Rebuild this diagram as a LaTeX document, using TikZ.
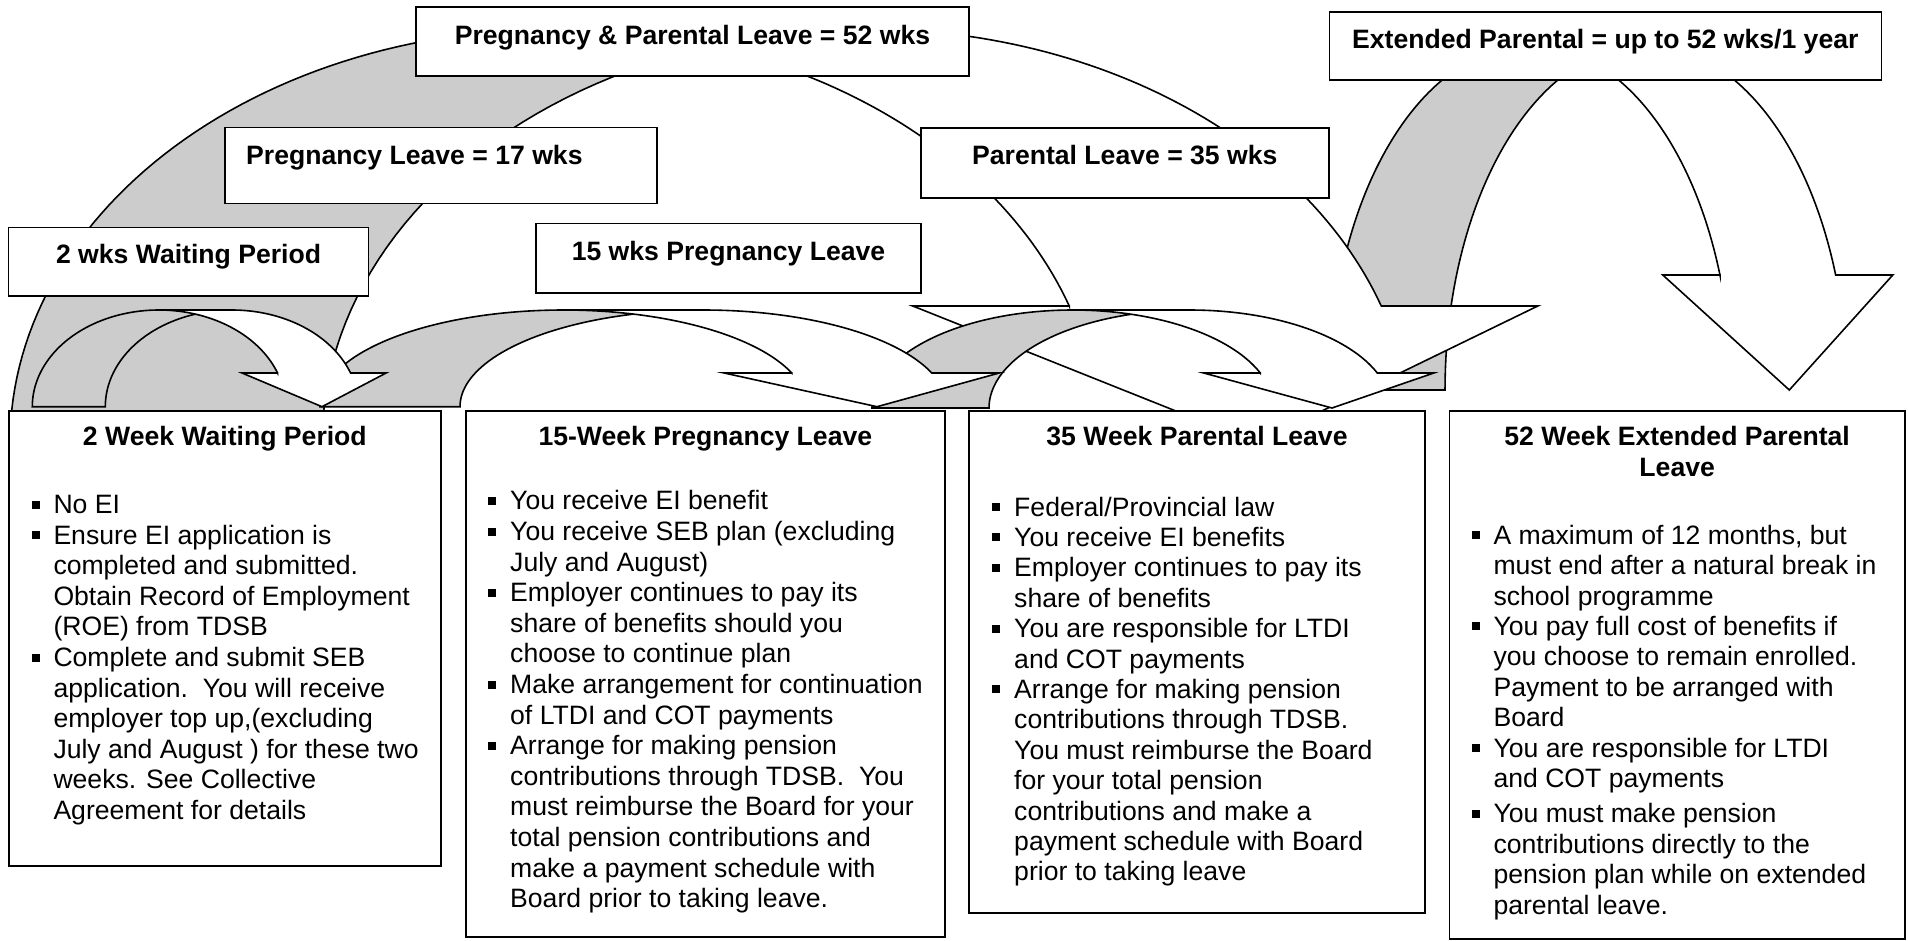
\documentclass[tikz,border=0pt]{standalone}
\usepackage{fontspec}
\setmainfont{Liberation Sans}
\definecolor{arrowgrey}{RGB}{204,204,204}
% curved down arrow: #1=l #2=baseline #3=w #4=h #5=th #6=aw #7=ah (pixel units, y down)
\newcommand{\cda}[7]{%
  \pgfmathsetmacro\Wr{#3/2-(#5+#6)/4}%
  \pgfmathsetmacro\cxa{#1+\Wr}%
  \pgfmathsetmacro\cxb{\cxa+#5}%
  \pgfmathsetmacro\ya{#2-#7}%
  \pgfmathsetmacro\tha{-asin(#7/#4)}%
  \pgfmathsetmacro\dxx{\Wr*cos(\tha)}%
  \pgfmathsetmacro\xfive{\cxa+\dxx}%
  \pgfmathsetmacro\xseven{\cxb+\dxx}%
  \pgfmathsetmacro\dhh{(#6-#5)/2}%
  \pgfmathsetmacro\xfour{\xfive-\dhh}%
  \pgfmathsetmacro\xeight{\xseven+\dhh}%
  \pgfmathsetmacro\xsix{#1+#3-#6/2}%
  \pgfmathsetmacro\phic{acos(#5/(2*\Wr))}%
  \pgfmathsetmacro\phia{\phic-180}%
  \pgfmathsetmacro\phib{-\phic}%
  \fill[white] (\xsix,#2) -- (\xfour,\ya) -- (\xfive,\ya)
    -- plot[domain=\tha:-90,samples=60] ({\cxa+\Wr*cos(\x)},{#2+#4*sin(\x)})
    -- plot[domain=-90:\tha,samples=60] ({\cxb+\Wr*cos(\x)},{#2+#4*sin(\x)})
    -- (\xeight,\ya) -- cycle;
  \fill[arrowgrey] plot[domain=\phia:-180,samples=40] ({\cxb+\Wr*cos(\x)},{#2+#4*sin(\x)})
    -- plot[domain=-180:\phib,samples=60] ({\cxa+\Wr*cos(\x)},{#2+#4*sin(\x)}) -- cycle;
  \draw[arrowline] plot[domain=\phia:-180,samples=40] ({\cxb+\Wr*cos(\x)},{#2+#4*sin(\x)})
    -- plot[domain=-180:-90,samples=60] ({\cxa+\Wr*cos(\x)},{#2+#4*sin(\x)})
    -- plot[domain=-90:\tha,samples=60] ({\cxb+\Wr*cos(\x)},{#2+#4*sin(\x)})
    -- (\xeight,\ya) -- (\xsix,#2) -- (\xfour,\ya) -- (\xfive,\ya)
    -- plot[domain=\tha:-90,samples=60] ({\cxa+\Wr*cos(\x)},{#2+#4*sin(\x)});
}
\newcommand{\bul}{\makebox[0pt][r]{\raisebox{5pt}{\rule{8pt}{8pt}}\hspace{14pt}}}
\newcommand{\fst}{\rule{0pt}{24pt}}
\begin{document}
\begin{tikzpicture}[x=1pt,y=-1pt,
  arrowline/.style={draw=black,line width=1.6pt,line join=miter},
  box/.style={draw=black,fill=white,line width=1.6pt,inner sep=0pt,outer sep=0pt,anchor=north west},
  lbl/.style={font=\fontsize{26.6}{30.6}\selectfont\bfseries,inner sep=0pt},
  body/.style={font=\fontsize{26.6}{30.6}\selectfont,inner sep=0pt,align=left,anchor=north west}]
\useasboundingbox[fill=white] (0,0) rectangle (1908,940);

% curved arrows, back to front
\cda{1329.3}{390}{575}{345}{115.7}{230}{115}
\cda{10}{443}{1558.5}{414}{312}{625}{137}
\cda{872}{408}{575}{98}{117}{230}{35}
\cda{320}{406.7}{694.5}{96.7}{140}{275}{33.7}
\cda{32.3}{406.7}{361.7}{96.7}{73}{144}{33.7}

% top label boxes
\node[box,minimum width=553,minimum height=69] (b52) at (416,7) {};
\node[lbl,anchor=base] (t52) at ([yshift=-37pt]b52.north) {Pregnancy \& Parental Leave = 52 wks};
\node[box,minimum width=432,minimum height=76] (b17) at (225,127.3) {};
\node[lbl,anchor=base west] (t17) at ([xshift=21pt,yshift=-37pt]b17.north west) {Pregnancy Leave = 17 wks};
\node[box,minimum width=360,minimum height=68.5] (b2) at (8.6,227.3) {};
\node[lbl,anchor=base] (t2) at ([yshift=-36pt]b2.north) {2 wks Waiting Period};
\node[box,minimum width=385,minimum height=69.5] (b15) at (536,223.3) {};
\node[lbl,anchor=base] (t15) at ([yshift=-37.5pt]b15.north) {15 wks Pregnancy Leave};
\node[box,minimum width=408,minimum height=70.5] (b35) at (920.8,127.7) {};
\node[lbl,anchor=base] (t35) at ([yshift=-36.5pt]b35.north) {Parental Leave = 35 wks};
\node[box,minimum width=552,minimum height=68.3] (bex) at (1329.3,11.7) {};
\node[lbl,anchor=base] (tex) at ([yshift=-36.5pt]bex.north) {Extended Parental = up to 52 wks/1 year};

% bottom information boxes
\node[box,minimum width=431.7,minimum height=455] (A) at (9,411) {};
\node[lbl,align=center,anchor=north] (At) at ([yshift=-10.7pt]A.north) {\fst 2 Week Waiting Period};
\node[body] (Ab) at ([xshift=44.3pt,yshift=-78.3pt]A.north west) {%
\bul\fst No EI\\
\bul Ensure EI application is\\
completed and submitted.\\
Obtain Record of Employment\\
(ROE) from TDSB\\
\bul Complete and submit SEB\\
application.\ \ You will receive\\
employer top up,(excluding\\
July and August ) for these two\\
weeks. See Collective\\
Agreement for details};

\node[box,minimum width=479.3,minimum height=526] (B) at (465.7,411) {};
\node[lbl,align=center,anchor=north] (Bt) at ([yshift=-10.7pt]B.north) {\fst 15-Week Pregnancy Leave};
\node[body] (Bb) at ([xshift=44.3pt,yshift=-74.7pt]B.north west) {%
\bul\fst You receive EI benefit\\
\bul You receive SEB plan (excluding\\
July and August)\\
\bul Employer continues to pay its\\
share of benefits should you\\
choose to continue plan\\
\bul Make arrangement for continuation\\
of LTDI and COT payments\\
\bul Arrange for making pension\\
contributions through TDSB.\ \ You\\
must reimburse the Board for your\\
total pension contributions and\\
make a payment schedule with\\
Board prior to taking leave.};

\node[box,minimum width=456,minimum height=502] (C) at (969,411) {};
\node[lbl,align=center,anchor=north] (Ct) at ([yshift=-10.7pt]C.north) {\fst 35 Week Parental Leave};
\node[body,font=\fontsize{26.6}{30.4}\selectfont] (Cb) at ([xshift=45pt,yshift=-80.8pt]C.north west) {%
\bul\fst Federal/Provincial law\\
\bul You receive EI benefits\\
\bul Employer continues to pay its\\
share of benefits\\
\bul You are responsible for LTDI\\
and COT payments\\
\bul Arrange for making pension\\
contributions through TDSB.\\
You must reimburse the Board\\
for your total pension\\
contributions and make a\\
payment schedule with Board\\
prior to taking leave};

\node[box,minimum width=455.7,minimum height=528] (D) at (1449.3,411) {};
\node[lbl,align=center,anchor=north] (Dt) at ([yshift=-10.7pt]D.north) {\fst 52 Week Extended Parental\\Leave};
\node[body,font=\fontsize{26.6}{30.4}\selectfont] (Db) at ([xshift=44pt,yshift=-109pt]D.north west) {%
\bul\fst A maximum of 12 months, but\\
must end after a natural break in\\
school programme\\
\bul You pay full cost of benefits if\\
you choose to remain enrolled.\\
Payment to be arranged with\\
Board\\
\bul You are responsible for LTDI\\
and COT payments\\[5pt]
\bul You must make pension\\
contributions directly to the\\
pension plan while on extended\\
parental leave.};
\end{tikzpicture}
\end{document}
